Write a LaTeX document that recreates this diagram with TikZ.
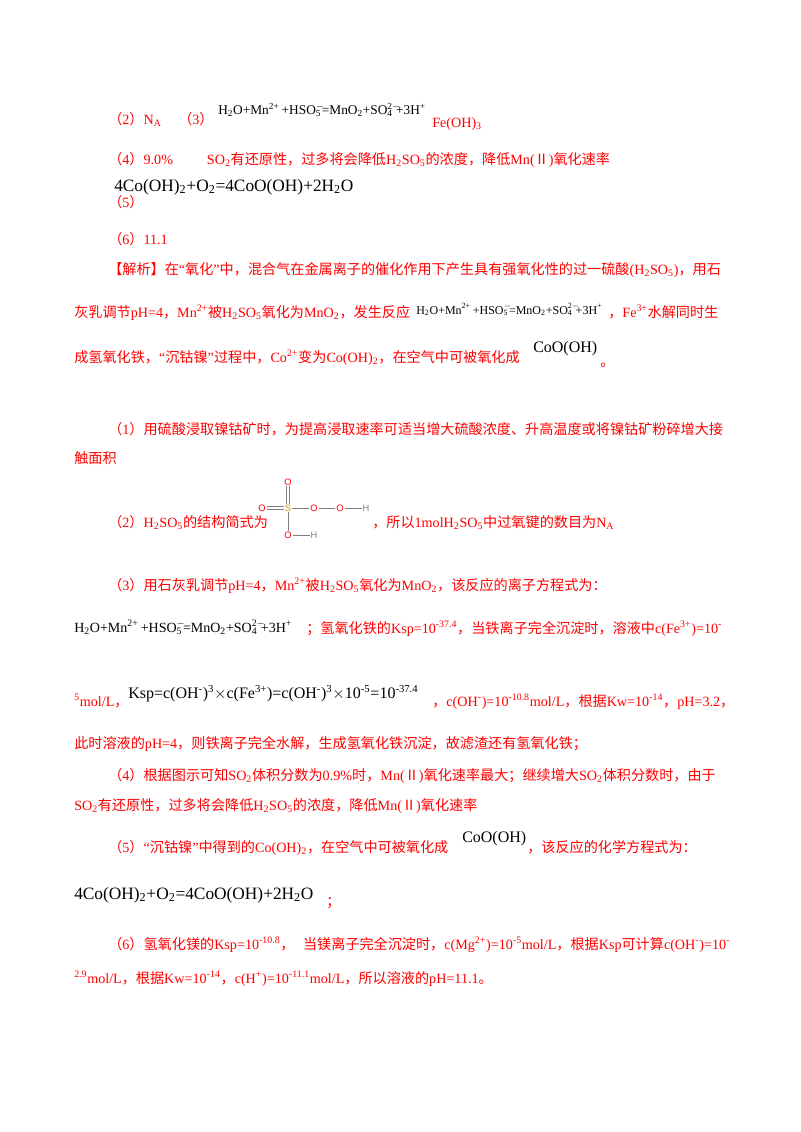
\documentclass[tikz,border=0pt]{standalone}
\usepackage{fontspec}
\setmainfont{Liberation Serif}
\newfontfamily\cjk{Noto Sans CJK SC}
\newfontfamily\latin{Liberation Serif}
\newfontfamily\chemsans{Liberation Sans}
\definecolor{sulf}{RGB}{190,150,0}
\XeTeXinterchartokenstate=1
\newXeTeXintercharclass\CJKcls
\count255="4E00
\loop\XeTeXcharclass\count255=\CJKcls\advance\count255 by 1\ifnum\count255<"9FFF\repeat
\count255="3000
\loop\XeTeXcharclass\count255=\CJKcls\advance\count255 by 1\ifnum\count255<"3040\repeat
\count255="FF00
\loop\XeTeXcharclass\count255=\CJKcls\advance\count255 by 1\ifnum\count255<"FFF0\repeat
\XeTeXcharclass"2161=\CJKcls
\XeTeXinterchartoks 0 \CJKcls={\cjk}
\XeTeXinterchartoks 4095 \CJKcls={\cjk}
\XeTeXinterchartoks \CJKcls 0={\latin}
\newcommand\lo[1]{\textsubscript{#1}}
\newcommand\hi[1]{\textsuperscript{#1}}
\newcommand\both[2]{\makebox[0.45em][l]{\rlap{\hi{#1}}\lo{#2}}}
\newcommand\rxn{H\lo2O+Mn\hi{2+}\,+HSO\both{$-$}{5}=MnO\lo2+SO\both{2$-$}{4}\hspace{0.2em}+3H\hi+}
\begin{document}
\begin{tikzpicture}[x=0.75pt,y=-0.75pt,
  txt/.style={anchor=base west,inner sep=0,text=red,font=\fontsize{10.6}{13}\selectfont},
  eq/.style={anchor=base west,inner sep=0,text=black,font=\fontsize{10}{12}\selectfont},
  eqb/.style={anchor=base west,inner sep=0,text=black,font=\fontsize{13}{15}\selectfont},
  atm/.style={inner sep=0.5,font=\chemsans\fontsize{7}{8}\selectfont,text=#1},
  bond/.style={draw=gray,line width=0.6pt}]
\useasboundingbox (0,0) rectangle (800,1132);
\node[txt] (a2) at (108,124) {（2）N\lo{A}};
\node[txt] (a3) at (178,124) {（3）};
\node[eq] (e3) at (218,114) {\rxn};
\node[txt] (fe) at (432,127) {Fe(OH)\lo3};
\node[txt] (a4) at (108,164) {（4）9.0\%\hspace{2.4em}SO\lo2有还原性，过多将会降低H\lo2SO\lo5的浓度，降低Mn(Ⅱ)氧化速率};
\node[eqb] (e5) at (114,191) {4Co(OH)\lo2+O\lo2=4CoO(OH)+2H\lo2O};
\node[txt] (a5) at (108,207) {（5）};
\node[txt] (a6) at (108,244) {（6）11.1};
\node[txt] (j1) at (108,274) {【解析】在“氧化”中，混合气在金属离子的催化作用下产生具有强氧化性的过一硫酸(H\lo2SO\lo5)，用石};
\node[txt] (j2) at (74,317) {灰乳调节pH=4，Mn\hi{2+}被H\lo2SO\lo5氧化为MnO\lo2，发生反应};
\node[eq,font=\fontsize{9}{11}\selectfont] (j2e) at (416,314) {\rxn};
\node[txt] (j2b) at (608,317) {，Fe\hi{3+}水解同时生};
\node[txt] (j3) at (74,362) {成氢氧化铁，“沉钴镍”过程中，Co\hi{2+}变为Co(OH)\lo2，在空气中可被氧化成};
\node[eq,font=\fontsize{12}{14}\selectfont] (j3e) at (533,352) {CoO(OH)};
\node[txt] (j3b) at (600,366) {。};
\node[txt] (b1) at (108,434) {（1）用硫酸浸取镍钴矿时，为提高浸取速率可适当增大硫酸浓度、升高温度或将镍钴矿粉碎增大接};
\node[txt] (b1b) at (74,463) {触面积};
\node[txt] (b2) at (108,527) {（2）H\lo2SO\lo5的结构简式为};
\node[txt] (b2b) at (372,527) {，所以1molH\lo2SO\lo5中过氧键的数目为N\lo{A}};
% structure
\node[atm=red] (Ot) at (288,482) {O};
\node[atm=red] (Ol) at (262,508) {O};
\node[atm=sulf] (S) at (288,508) {S};
\node[atm=red] (O1) at (314,508) {O};
\node[atm=red] (O2) at (340,508) {O};
\node[atm=gray] (H1) at (366,508) {H};
\node[atm=red] (Ob) at (288,535) {O};
\node[atm=gray] (H2) at (314,535) {H};
\draw[bond] ([xshift=-1.2pt]Ot.south) -- ([xshift=-1.2pt]S.north);
\draw[bond] ([xshift=1.2pt]Ot.south) -- ([xshift=1.2pt]S.north);
\draw[bond] ([yshift=-1.2pt]Ol.east) -- ([yshift=-1.2pt]S.west);
\draw[bond] ([yshift=1.2pt]Ol.east) -- ([yshift=1.2pt]S.west);
\draw[bond] (S) -- (O1); \draw[bond] (O1) -- (O2); \draw[bond] (O2) -- (H1);
\draw[bond] (S) -- (Ob); \draw[bond] (Ob) -- (H2);
\node[txt] (b3) at (108,590) {（3）用石灰乳调节pH=4，Mn\hi{2+}被H\lo2SO\lo5氧化为MnO\lo2，该反应的离子方程式为：};
\node[eq,font=\fontsize{10.5}{12}\selectfont] (b3e) at (74,632) {\rxn};
\node[txt] (b3b) at (306,633) {；氢氧化铁的Ksp=10\hi{-37.4}，当铁离子完全沉淀时，溶液中c(Fe\hi{3+})=10\hi-};
\node[txt] (b4) at (74,706) {\hi5mol/L，};
\node[eq,font=\fontsize{12}{14}\selectfont] (b4e) at (128,698) {Ksp=c(OH\hi-)\hi3$\times$c(Fe\hi{3+})=c(OH\hi-)\hi3$\times$10\hi{-5}=10\hi{-37.4}};
\node[txt] (b4b) at (432,706) {，c(OH\hi-)=10\hi{-10.8}mol/L，根据Kw=10\hi{-14}，pH=3.2，};
\node[txt] (b5) at (74,748) {此时溶液的pH=4，则铁离子完全水解，生成氢氧化铁沉淀，故滤渣还有氢氧化铁；};
\node[txt] (c4) at (108,780) {（4）根据图示可知SO\lo2体积分数为0.9\%时，Mn(Ⅱ)氧化速率最大；继续增大SO\lo2体积分数时，由于};
\node[txt] (c4b) at (74,810) {SO\lo2有还原性，过多将会降低H\lo2SO\lo5的浓度，降低Mn(Ⅱ)氧化速率};
\node[txt] (c5) at (108,852) {（5）“沉钴镍”中得到的Co(OH)\lo2，在空气中可被氧化成};
\node[eq,font=\fontsize{12}{14}\selectfont] (c5e) at (462,842) {CoO(OH)};
\node[txt] (c5b) at (527,852) {，该反应的化学方程式为：};
\node[eqb] (c5f) at (74,899) {4Co(OH)\lo2+O\lo2=4CoO(OH)+2H\lo2O};
\node[txt] (c5g) at (326,906) {；};
\node[txt] (c6) at (108,949) {（6）氢氧化镁的Ksp=10\hi{-10.8}，\hspace{0.6em}当镁离子完全沉淀时，c(Mg\hi{2+})=10\hi{-5}mol/L，根据Ksp可计算c(OH\hi-)=10\hi-};
\node[txt] (c6b) at (74,983) {\hi{2.9}mol/L，根据Kw=10\hi{-14}，c(H\hi+)=10\hi{-11.1}mol/L，所以溶液的pH=11.1。};
\end{tikzpicture}
\end{document}
